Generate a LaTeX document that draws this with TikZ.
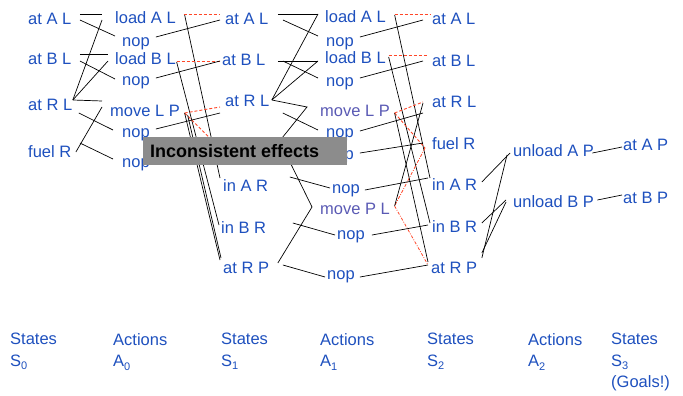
\documentclass[tikz,border=0pt]{standalone}
\usepackage{fontspec}
\setmainfont{Liberation Sans}
\definecolor{nblue}{RGB}{30,80,190}
\definecolor{npurp}{RGB}{90,90,180}
\definecolor{mred}{RGB}{255,70,40}
\definecolor{boxgray}{RGB}{140,140,140}
\newcommand\sbs[1]{\raisebox{-3.5pt}{\fontsize{11}{11}\selectfont #1}}
\begin{document}
\begin{tikzpicture}[x=1pt,y=-1pt,
 lbl/.style={anchor=west,inner sep=0pt,text height=11.8pt,text depth=0pt,font=\fontsize{16.5}{20}\selectfont,text=nblue},
 plbl/.style={lbl,text=npurp},
 edge/.style={draw=black,line width=0.7pt},
 mutex/.style={draw=mred,line width=0.9pt,dash pattern=on 3pt off 2pt},
 mutexdd/.style={draw=mred,line width=0.8pt,dash pattern=on 3pt off 1.5pt on 0.8pt off 1.5pt},
 axislbl/.style={anchor=north west,inner sep=0pt,align=left,font=\fontsize{16.5}{21.5}\selectfont,text=nblue}]
\path[use as bounding box] (0,0) rectangle (683,396);
% S0
\node[lbl] (a0) at (28,19) {at A L};
\node[lbl] (b0) at (28,59) {at B L};
\node[lbl] (r0) at (28,105) {at R L};
\node[lbl] (f0) at (28,152) {fuel R};
% A0
\node[lbl] (la0) at (115,18) {load A L};
\node[lbl] (n0a) at (122,41) {nop};
\node[lbl] (lb0) at (115,59) {load B L};
\node[lbl] (n0b) at (122,80) {nop};
\node[lbl] (ml0) at (110,111) {move L P};
\node[lbl] (n0c) at (122,132) {nop};
\node[lbl] (n0d) at (122,162) {nop};
% S1 (fuel R of this level lies hidden under the box)
\node[lbl] (a1) at (225,19) {at A L};
\node[lbl] (b1) at (222,60) {at B L};
\node[lbl] (r1) at (225,101) {at R L};
\coordinate (f1w) at (225,144);
\coordinate (f1e) at (268.6,144);
\node[lbl] (ia1) at (223,186) {in A R};
\node[lbl] (ib1) at (221,228) {in B R};
\node[lbl] (rp1) at (223,268) {at R P};
% A1
\node[lbl] (la1) at (325,17) {load A L};
\node[lbl] (n1a) at (326,41) {nop};
\node[lbl] (lb1) at (325,58) {load B L};
\node[lbl] (n1b) at (326,81) {nop};
\node[plbl] (ml1) at (320,111) {move L P};
\node[lbl] (n1c) at (326,132) {nop};
\node[lbl] (n1d) at (326,154) {nop};
\node[lbl] (n1e) at (332,188) {nop};
\node[plbl] (mp1) at (320,209) {move P L};
\node[lbl] (n1f) at (337,234) {nop};
\node[lbl] (n1g) at (327,274) {nop};
% S2
\node[lbl] (a2) at (432,19) {at A L};
\node[lbl] (b2) at (432,61) {at B L};
\node[lbl] (r2) at (432,102) {at R L};
\node[lbl] (f2) at (432,144) {fuel R};
\node[lbl] (ia2) at (432,185) {in A R};
\node[lbl] (ib2) at (432,227) {in B R};
\node[lbl] (rp2) at (431,268) {at R P};
% A2
\node[lbl] (ua) at (513,151) {unload A P};
\node[lbl] (ub) at (513,202) {unload B P};
% S3
\node[lbl] (ap) at (623,145) {at A P};
\node[lbl] (bp) at (623,198) {at B P};

% S0 -> A0
\draw[edge] ([shift={(8.4,-5)}]a0.east) -- ([shift={(-13,-4)}]la0.west);
\draw[edge] ([shift={(8.4,1)}]a0.east) -- ([shift={(-7,-5)}]n0a.west);
\draw[edge] ([shift={(0.4,-5)}]r0.east) -- ([shift={(-13,2)}]la0.west);
\draw[edge] ([shift={(0.4,-5)}]r0.east) -- ([shift={(-7,2)}]lb0.west);
\draw[edge] ([shift={(0.4,-5)}]r0.east) -- ([shift={(-8,-10)}]ml0.west);
\draw[edge] ([shift={(8.4,-5)}]b0.east) -- ([shift={(-7,-5)}]lb0.west);
\draw[edge] ([shift={(8.4,2)}]b0.east) -- ([shift={(-7,-1)}]n0b.west);
\draw[edge] ([shift={(6.4,8)}]r0.east) -- ([shift={(-9,-2)}]n0c.west);
\draw[edge] ([shift={(4.4,0)}]f0.east) -- ([shift={(-8,-4)}]ml0.west);
\draw[edge] ([shift={(8.4,-9)}]f0.east) -- ([shift={(-9,-3)}]n0d.west);
% A0 -> S1
\draw[edge] ([shift={(6,-4)}]n0a.east) -- ([shift={(-5,1)}]a1.west);
\draw[mutex] ([shift={(7.7,-4)}]la0.east) -- ([shift={(-5,-5)}]a1.west);
\draw[edge] ([shift={(8.7,-3)}]la0.east) -- ([shift={(-3,-8)}]ia1.west);
\draw[mutex] ([shift={(0.7,2)}]lb0.east) -- ([shift={(-2,1)}]b1.west);
\draw[edge] ([shift={(0.7,3)}]lb0.east) -- ([shift={(-2,-3)}]ib1.west);
\draw[edge] ([shift={(6,-2)}]n0b.east) -- ([shift={(-2,1)}]b1.west);
\draw[mutex] ([shift={(4.5,2)}]ml0.east) -- ([shift={(-5,6)}]r1.west);
\draw[mutex] ([shift={(4.5,2)}]ml0.east) -- ([shift={(-5,4)}]f1w);
\draw[edge] ([shift={(4.5,2)}]ml0.east) -- ([shift={(-3,-8)}]rp1.west);
\draw[edge] ([shift={(7.5,4)}]ml0.east) -- ([shift={(-2,-10)}]rp1.west);
\draw[edge] ([shift={(6,-3)}]n0c.east) -- ([shift={(-5,12)}]r1.west);
\draw[edge] ([shift={(6,-2)}]n0d.east) -- ([shift={(-5,4)}]f1w);
% S1 -> A1
\draw[edge] ([shift={(9.4,-5)}]a1.east) -- ([shift={(-7,-3)}]la1.west);
\draw[edge] ([shift={(14.4,1)}]a1.east) -- ([shift={(-8,-5)}]n1a.west);
\draw[edge] ([shift={(2.4,-1)}]r1.east) -- ([shift={(-7,-3)}]la1.west);
\draw[edge] ([shift={(2.4,-1)}]r1.east) -- ([shift={(-7,3)}]lb1.west);
\draw[edge] ([shift={(2.4,-1)}]r1.east) -- ([shift={(-13,-4)}]ml1.west)
   -- ([shift={(11,-3)}]f1e) -- ([shift={(-8,-2)}]mp1.west) -- ([shift={(8.6,-5)}]rp1.east);
\draw[edge] ([shift={(12.4,1)}]b1.east) -- ([shift={(-7,3)}]lb1.west);
\draw[edge] ([shift={(17.4,1)}]b1.east) -- ([shift={(-8,-3)}]n1b.west);
\draw[edge] ([shift={(13.4,12)}]r1.east) -- ([shift={(-8,-2)}]n1c.west);
\draw[edge] ([shift={(8,2)}]f1e) -- ([shift={(-8,-2)}]n1d.west);
\draw[edge] ([shift={(21.5,-9)}]ia1.east) -- ([shift={(-2,0)}]n1e.west);
\draw[edge] ([shift={(26.5,-5)}]ib1.east) -- ([shift={(-2,1)}]n1f.west);
\draw[edge] ([shift={(13.6,-3)}]rp1.east) -- ([shift={(-2,3)}]n1g.west);
% A1 -> S2
\draw[edge] ([shift={(6,-4)}]n1a.east) -- ([shift={(-9,1)}]a2.west);
\draw[mutex] ([shift={(8.7,-3)}]la1.east) -- ([shift={(-2,-5)}]a2.west);
\draw[edge] ([shift={(8.7,-2)}]la1.east) -- ([shift={(-2,-7)}]ia2.west);
\draw[mutex] ([shift={(2.7,-3)}]lb1.east) -- ([shift={(-5,-6)}]b2.west);
\draw[edge] ([shift={(2.7,-1)}]lb1.east) -- ([shift={(-2,-4)}]ib2.west);
\draw[edge] ([shift={(6,-3)}]n1b.east) -- ([shift={(-9,0)}]b2.west);
\draw[mutex] ([shift={(4.5,2)}]ml1.east) -- ([shift={(-9,0)}]r2.west);
\draw[mutex] ([shift={(4.5,2)}]ml1.east) -- ([shift={(-7,4)}]f2.west);
\draw[mutexdd] ([shift={(-7,4)}]f2.west) -- ([shift={(4.5,-3)}]mp1.east);
\draw[mutexdd] ([shift={(4.5,-3)}]mp1.east) -- ([shift={(-3,-3)}]rp2.west);
\draw[edge] ([shift={(4.5,2)}]ml1.east) -- ([shift={(-3,-6)}]rp2.west);
\draw[edge] ([shift={(4.5,-3)}]mp1.east) -- ([shift={(-9,1)}]r2.west);
\draw[edge] ([shift={(6,-1)}]n1c.east) -- ([shift={(-9,11)}]r2.west);
\draw[edge] ([shift={(6,-1)}]n1d.east) -- ([shift={(-9,-1)}]f2.west);
\draw[edge] ([shift={(5,2)}]n1e.east) -- ([shift={(-4,-7)}]ia2.west);
\draw[edge] ([shift={(7,1)}]n1f.east) -- ([shift={(-4,-2)}]ib2.west);
\draw[edge] ([shift={(5,3)}]n1g.east) -- ([shift={(-3,-3)}]rp2.west);
% S2 -> A2
\draw[edge] ([shift={(4.5,-3)}]ia2.east) -- ([shift={(-3,2)}]ua.west);
\draw[edge] ([shift={(4.6,-10)}]rp2.east) -- ([shift={(-6,4)}]ua.west);
\draw[edge] ([shift={(4.5,-4)}]ib2.east) -- ([shift={(-7,-2)}]ub.west);
\draw[edge] ([shift={(4.6,-15)}]rp2.east) -- ([shift={(-7,0)}]ub.west);
% A2 -> S3
\draw[edge] ([shift={(-1.7,2)}]ua.east) -- ([shift={(-1,2)}]ap.west);
\draw[edge] ([shift={(3.3,-2)}]ub.east) -- ([shift={(-1,-3)}]bp.west);

% Inconsistent effects box
\node[fill=boxgray,minimum width=204pt,minimum height=28pt,inner sep=0pt,anchor=north west] (ibox) at (143,137) {};
\node[anchor=west,inner sep=0pt,font=\fontsize{18}{20}\bfseries\selectfont,text=black] (ilbl) at (150,151.5) {Inconsistent effects};

% level labels
\node[axislbl] (L0) at (10,333) {States\\S\sbs{0}};
\node[axislbl] (L1) at (113,333) {Actions\\A\sbs{0}};
\node[axislbl] (L2) at (221,333) {States\\S\sbs{1}};
\node[axislbl] (L3) at (320,333) {Actions\\A\sbs{1}};
\node[axislbl] (L4) at (427,333) {States\\S\sbs{2}};
\node[axislbl] (L5) at (528,333) {Actions\\A\sbs{2}};
\node[axislbl] (L6) at (611,333) {States\\S\sbs{3}\\(Goals!)};
\end{tikzpicture}
\end{document}
